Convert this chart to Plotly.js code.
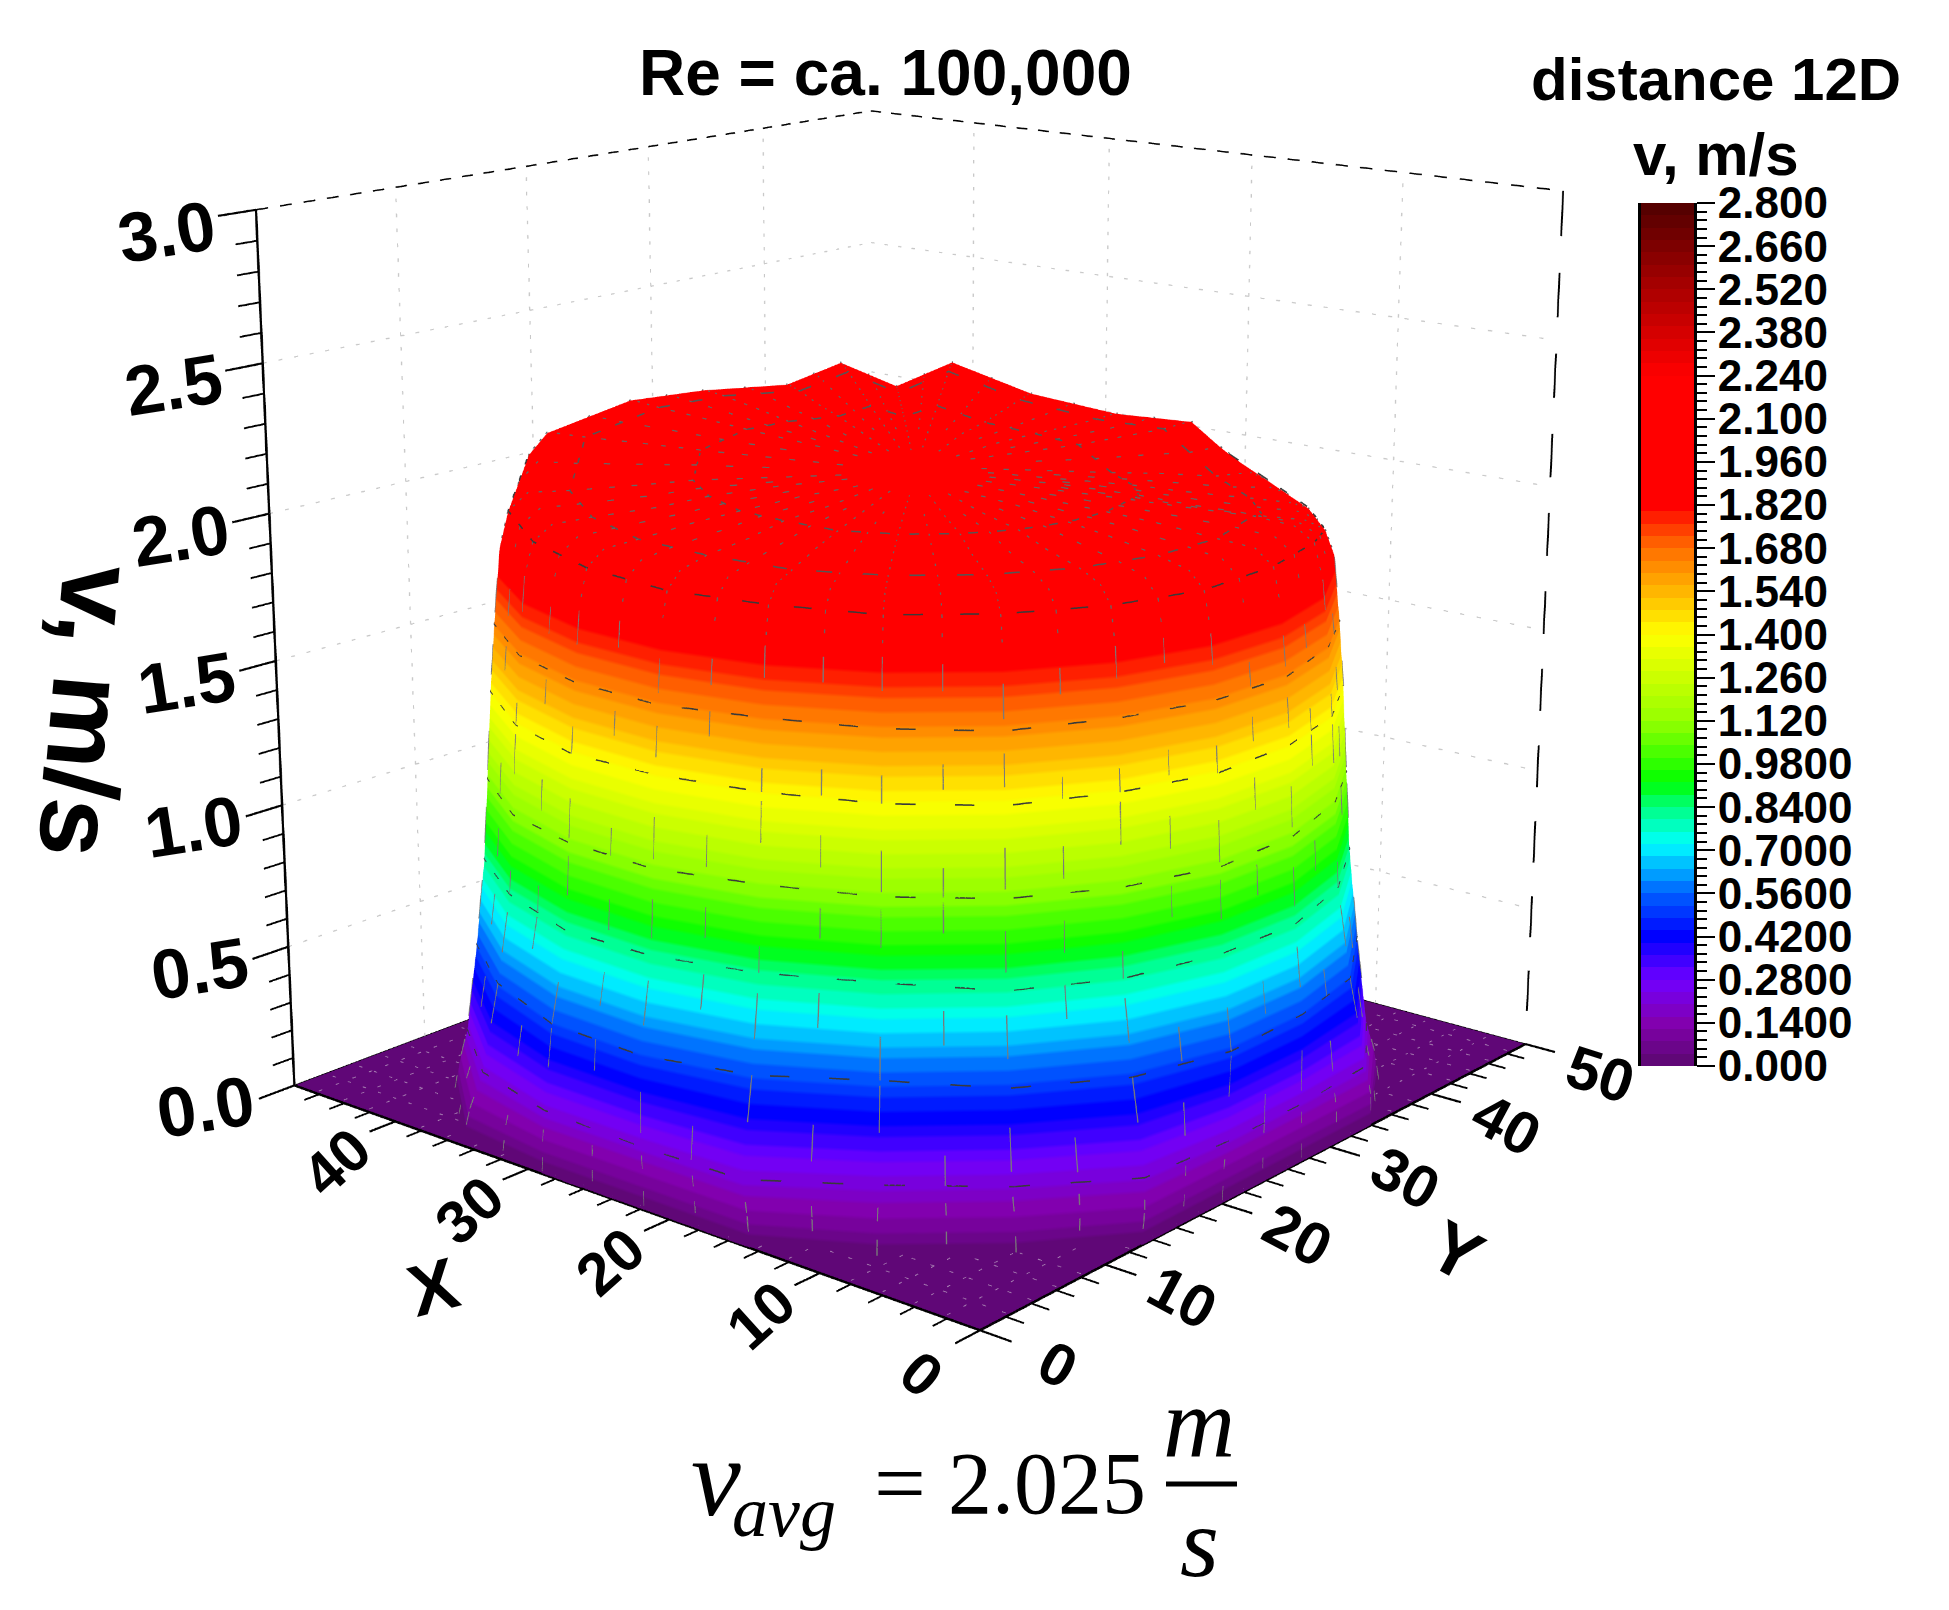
<!DOCTYPE html>
<html><head><meta charset="utf-8">
<script src="https://cdn.plot.ly/plotly-3.0.1.min.js"></script>
<style>html,body{margin:0;padding:0;background:#fff;overflow:hidden;width:1949px;height:1610px}#wrap{position:absolute;left:0;top:0;width:1949px;height:1610px;overflow:hidden}#g{position:absolute;left:-978px;top:-1001px;width:3770px;height:3300px}</style>
</head><body><div id="wrap"><div id="g"></div></div>
<script>
// ---- data ----
const angleDeg=[0,15,30,39,48,57,70,85,100,115,130,145,160,175,190,205,220,235,250,265,280,295,310,335,360];
const ringRadius=[0,4,8,12,15,18.6,20.8,21.9,22.4,22.8,23.1,23.4,23.7,24,24.3,24.5,24.7];
const ringFlare=[0,0,0,0,0,0,0,0,0,0,0,0,0,0.25,0.6,0.9,1];
const angleFlare=[0,0,0,0,0,0,0,0,0,0,0,1,2,3,3,3.2,1.8,1.8,3.3,3,3,2,1,0,0];
const ringRows=[
[2.10,2.10,2.10,2.10,2.10,2.10,2.10,2.10,2.10,2.10,2.10,2.10,2.10,2.10,2.10,2.10,2.10,2.10,2.10,2.10,2.10,2.10,2.10,2.10,2.10],
[2.11,2.11,2.11,2.12,2.11,2.12,2.11,2.10,2.10,2.08,2.08,2.08,2.08,2.08,2.07,2.07,2.07,2.07,2.08,2.08,2.08,2.09,2.09,2.10,2.11],
[2.12,2.12,2.12,2.14,2.12,2.14,2.12,2.10,2.09,2.05,2.05,2.06,2.07,2.07,2.07,2.06,2.06,2.07,2.07,2.07,2.08,2.09,2.09,2.11,2.12],
[2.13,2.13,2.13,2.16,2.12,2.16,2.11,2.09,2.08,2.02,2.02,2.03,2.06,2.06,2.06,2.06,2.06,2.06,2.06,2.07,2.07,2.08,2.09,2.12,2.13],
[2.14,2.14,2.13,2.18,2.12,2.18,2.11,2.08,2.08,2.00,1.99,2.00,2.05,2.05,2.05,2.04,2.04,2.05,2.05,2.05,2.06,2.06,2.08,2.13,2.14],
[2.15,2.15,2.14,2.20,2.12,2.20,2.11,2.07,2.08,1.97,1.96,1.97,2.04,2.03,2.03,2.03,2.03,2.03,2.03,2.04,2.04,2.05,2.07,2.14,2.15],
[2.16,2.15,2.14,2.21,2.12,2.21,2.11,2.07,2.09,1.97,1.94,1.96,2.02,2.02,2.01,2.01,2.01,2.01,2.02,2.02,2.03,2.04,2.07,2.15,2.16],
[2.08,2.08,2.07,2.13,2.05,2.13,2.05,2.01,2.02,1.94,1.92,1.93,1.97,1.97,1.96,1.96,1.96,1.96,1.97,1.97,1.98,1.99,2.01,2.07,2.08],
[1.92,1.93,1.96,1.94,1.96,1.93,1.92,1.90,1.90,1.86,1.85,1.85,1.85,1.84,1.84,1.84,1.85,1.85,1.85,1.86,1.86,1.88,1.89,1.90,1.92],
[1.65,1.65,1.66,1.65,1.66,1.64,1.64,1.63,1.63,1.62,1.62,1.62,1.63,1.62,1.62,1.62,1.61,1.62,1.63,1.62,1.62,1.62,1.63,1.64,1.65],
[1.41,1.41,1.42,1.41,1.41,1.40,1.40,1.40,1.39,1.39,1.39,1.40,1.40,1.40,1.39,1.39,1.38,1.39,1.40,1.40,1.39,1.39,1.40,1.40,1.41],
[1.11,1.11,1.11,1.10,1.10,1.10,1.10,1.09,1.09,1.09,1.10,1.10,1.11,1.10,1.09,1.09,1.09,1.10,1.11,1.10,1.10,1.09,1.10,1.10,1.11],
[0.83,0.83,0.82,0.82,0.82,0.82,0.81,0.81,0.81,0.82,0.83,0.83,0.82,0.81,0.81,0.80,0.80,0.83,0.83,0.82,0.81,0.82,0.82,0.82,0.83],
[0.52,0.52,0.52,0.52,0.51,0.51,0.51,0.52,0.52,0.53,0.52,0.52,0.51,0.51,0.50,0.50,0.50,0.53,0.52,0.51,0.51,0.52,0.52,0.52,0.52],
[0.22,0.22,0.22,0.22,0.22,0.22,0.21,0.22,0.22,0.23,0.22,0.22,0.21,0.20,0.20,0.20,0.20,0.21,0.21,0.21,0.22,0.22,0.22,0.22,0.22],
[0.10,0.10,0.10,0.10,0.10,0.10,0.10,0.10,0.10,0.11,0.11,0.11,0.11,0.11,0.11,0.11,0.11,0.11,0.11,0.11,0.11,0.10,0.10,0.10,0.10],
[0,0,0,0,0,0,0,0,0,0,0,0,0,0,0,0,0,0,0,0,0,0,0,0,0]
];
const stubPhase=[0.1,0.55,0.3,0.7,0.05,0.45,0.2,0.62,0.35,0.0,0.5,0.25,0.68,0.15,0.4];
const pipeCentre=[24.15,24.85];
const outlinedRings=[3,5,7,9,10,11,12,13,14];
const xTicks=[0,10,20,30,40], yTicks=[0,10,20,30,40,50], zTicks=[0,0.5,1,1.5,2,2.5,3];
const xMinor=[2,4,6,8,12,14,16,18,22,24,26,28,32,34,36,38,42,44,46];
const yMinor=[2,4,6,8,12,14,16,18,22,24,26,28,32,34,36,38,42,44,46,48];
const zMinor=[0.1,0.2,0.3,0.4,0.6,0.7,0.8,0.9,1.1,1.2,1.3,1.4,1.6,1.7,1.8,1.9,2.1,2.2,2.3,2.4,2.6,2.7,2.8,2.9];
const xMax=48,yMax=50,zMax=3;
const barTickVals=[0,0.14,0.28,0.42,0.56,0.7,0.84,0.98,1.12,1.26,1.4,1.54,1.68,1.82,1.96,2.1,2.24,2.38,2.52,2.66,2.8];
const barTickText=['0.000','0.1400','0.2800','0.4200','0.5600','0.7000','0.8400','0.9800','1.120','1.260','1.400','1.540','1.680','1.820','1.960','2.100','2.240','2.380','2.520','2.660','2.800'];
const colorStops=[[0,[90,8,110]],[0.14,[130,0,175]],[0.28,[112,0,255]],[0.42,[0,0,255]],[0.56,[0,96,255]],[0.72,[0,255,255]],[0.84,[0,255,128]],[0.92,[0,255,0]],[1.12,[150,255,0]],[1.4,[255,255,0]],[1.68,[255,110,0]],[1.82,[255,0,0]],[2.24,[255,0,0]],[2.52,[170,0,0]],[2.8,[80,0,0]]];
const bandCount=70;

// ---- colour scale with flat bands ----
function colourAt(v){for(let i=1;i<colorStops.length;i++){if(v<=colorStops[i][0]){const a=colorStops[i-1],b=colorStops[i],t=(v-a[0])/(b[0]-a[0]);
  return 'rgb('+a[1].map((c,k)=>Math.round(c+(b[1][k]-c)*t)).join(',')+')';}}return 'rgb(80,0,0)';}
const bandScale=[];const bandCentres=[];
for(let i=0;i<bandCount;i++){const c=colourAt((i+0.5)/bandCount*2.8);bandScale.push([i/bandCount,c],[(i+1)/bandCount,c]);bandCentres.push((i+0.5)/bandCount*2.8);}

// ---- polar mesh to x/y, kept inside the floor ----
const clamp=(v,m)=>Math.max(0,Math.min(m,v));
const gx=ringRadius.map((r,i)=>angleDeg.map((a,j)=>clamp(pipeCentre[0]+(r+ringFlare[i]*angleFlare[j])*Math.cos(a*Math.PI/180),xMax)));
const gy=ringRadius.map((r,i)=>angleDeg.map((a,j)=>clamp(pipeCentre[1]+(r+ringFlare[i]*angleFlare[j])*Math.sin(a*Math.PI/180),yMax)));
const flat={ambient:1,diffuse:0,specular:0,roughness:1,fresnel:0};
const traces=[];
traces.push({type:'surface',x:[0,xMax],y:[0,yMax],z:[[0,0],[0,0]],surfacecolor:[[0,0],[0,0]],cmin:0,cmax:2.8,colorscale:bandScale,showscale:false,lighting:flat,hoverinfo:'skip'});
traces.push({type:'surface',x:gx,y:gy,z:ringRows,cmin:0,cmax:2.8,colorscale:bandScale,showscale:false,lighting:flat,hoverinfo:'skip'});

function seg(list,color,width,dash){const x=[],y=[],z=[];list.forEach(s=>{x.push(s[0][0],s[1][0],null);y.push(s[0][1],s[1][1],null);z.push(s[0][2],s[1][2],null);});
  traces.push({type:'scatter3d',mode:'lines',x,y,z,line:{color,width,dash:dash||'solid'},hoverinfo:'skip',showlegend:false});}
function dots(a,b,count,fill){const out=[];for(let i=0;i<count;i++){const t0=i/count,t1=(i+fill)/count;
  out.push([a.map((v,k)=>v+(b[k]-v)*t0),a.map((v,k)=>v+(b[k]-v)*t1)]);}return out;}
function part(a,b,t0,t1){return [a.map((v,k)=>v+(b[k]-v)*t0),a.map((v,k)=>v+(b[k]-v)*Math.min(1,t1))];}
// frame
seg([[[xMax,0,0],[xMax,0,zMax]],[[0,0,0],[xMax,0,0]],[[0,0,0],[0,yMax,0]]],'#000',4);
seg(dots([xMax,0,zMax],[xMax,yMax,zMax],30,0.5).concat(dots([xMax,yMax,zMax],[0,yMax,zMax],30,0.5)),'#000',2.5);
seg(dots([0,yMax,zMax],[0,yMax,0],11,0.55),'#000',3);
seg([[[xMax,0,0],[xMax,yMax,0]],[[xMax,yMax,0],[0,yMax,0]]],'#000',2);
// ticks
seg(xTicks.map(v=>[[v,0,0],[v,-1.9,0]]),'#000',3.5);
seg(xMinor.map(v=>[[v,0,0],[v,-1.1,0]]),'#000',3);
seg(yTicks.map(v=>[[0,v,0],[-1.9,v,0]]),'#000',3.5);
seg(yMinor.map(v=>[[0,v,0],[-1.1,v,0]]),'#000',3);
seg(zTicks.map(v=>[[xMax,0,v],[xMax,-2.6,v]]),'#000',3.5);
seg(zMinor.map(v=>[[xMax,0,v],[xMax,-1.5,v]]),'#000',3);
// dotted wall grid
let g1=[];
xTicks.slice(1).forEach(v=>{g1=g1.concat(dots([v,yMax,0],[v,yMax,zMax],60,0.25));});
yTicks.slice(1,-1).forEach(v=>{g1=g1.concat(dots([xMax,v,0],[xMax,v,zMax],60,0.25));});
zTicks.slice(1,-1).forEach(v=>{g1=g1.concat(dots([xMax,0,v],[xMax,yMax,v],45,0.25)).concat(dots([xMax,yMax,v],[0,yMax,v],45,0.25));});
seg(g1,'#c8c8c8',2);
// floor hatching
let fl=[];xMinor.forEach(v=>{fl=fl.concat(dots([v,0,0.012],[v,yMax,0.012],40,0.2));});yMinor.forEach(v=>{fl=fl.concat(dots([0,v,0.012],[xMax,v,0.012],40,0.2));});
seg(fl,'#a57ab0',1.5);
// pipe mesh
outlinedRings.forEach(i=>{traces.push({type:'scatter3d',mode:'lines',x:gx[i],y:gy[i],z:ringRows[i].map(v=>v+0.004),line:{color:i>=7?'#3a3a3a':'#555',width:2.5,dash:'dash'},hoverinfo:'skip',showlegend:false});});
let sp=[],st=[];
angleDeg.slice(0,-1).forEach((a,j)=>{const j2=j+1;
 for(let i=0;i<ringRadius.length-1;i++){
  const p=[gx[i][j],gy[i][j],ringRows[i][j]+0.004],q=[gx[i+1][j],gy[i+1][j],ringRows[i+1][j]+0.004];
  const pm=[(gx[i][j]+gx[i][j2])/2,(gy[i][j]+gy[i][j2])/2,(ringRows[i][j]+ringRows[i][j2])/2+0.004];
  const qm=[(gx[i+1][j]+gx[i+1][j2])/2,(gy[i+1][j]+gy[i+1][j2])/2,(ringRows[i+1][j]+ringRows[i+1][j2])/2+0.004];
  if(i<8){if(i>0){sp=sp.concat(dots(p,q,3,0.25));if(i>1)sp=sp.concat(dots(pm,qm,2,0.2));}}
  else{const t=stubPhase[(i*3+j*5)%stubPhase.length],u=stubPhase[(i*7+j*2)%stubPhase.length];
    st.push(part(p,q,t,t+0.45));st.push(part(pm,qm,u,u+0.35));}
 }});
seg(sp,'#666',2);
seg(st,'#7a7a7a',2);

traces.push({type:'heatmap',x:[0],y:bandCentres,z:bandCentres.map(v=>[v]),zmin:0,zmax:2.8,colorscale:bandScale,showscale:false,xaxis:'x',yaxis:'y',hoverinfo:'skip',xgap:0,ygap:0});

const F='"Liberation Sans",Arial,sans-serif';
const S='"Liberation Serif",serif';
function sa(x,y,z,text,angle,size,xs,ys){return {x,y,z,text:'<b>'+text+'</b>',textangle:angle,showarrow:false,font:{family:F,size,color:'#000'},xshift:xs||0,yshift:ys||0};}
const sceneNotes=[];
zTicks.forEach(v=>sceneNotes.push(sa(xMax,0,v,v.toFixed(1),-9,70,-89,-22)));
xTicks.forEach(v=>sceneNotes.push(sa(v,-2,0,String(v),v===0?40:-42,60,-32,-30)));
yTicks.forEach(v=>sceneNotes.push(sa(-2,v,0,String(v),v===50?18:28,60,44,-22)));
sceneNotes.push(sa(24,-2,0,'X',-15,72,-152,-76));
sceneNotes.push(sa(-2,30,0,'Y',28,72,94,-95));

// the plot is laid out larger than the window so its lens is as long as the reference's
const LW=3770,LH=3300,OX=978,OY=1001;
const fx=px=>(px+OX)/LW, fy=py=>1-(py+OY)/LH;
function pa(px,py,text,size,family,angle){return {xref:'paper',yref:'paper',x:fx(px),y:fy(py),text,showarrow:false,font:{family,size,color:'#000'},textangle:angle||0,xanchor:'center',yanchor:'middle'};}
const layout={width:LW,height:LH,margin:{l:0,r:0,t:0,b:0},paper_bgcolor:'rgba(0,0,0,0)',plot_bgcolor:'rgba(0,0,0,0)',showlegend:false,
 scene:{domain:{x:[0,1],y:[0,1]},
  camera:{eye:{x:5.88,y:-7.0,z:2.53},center:{x:0,y:0,z:0},up:{x:0,y:0,z:1},projection:{type:'perspective'}},
  aspectmode:'manual',aspectratio:{x:2.32,y:2.42,z:2.14},
  xaxis:{range:[xMax+2,-2],visible:false},yaxis:{range:[-4,yMax+2],visible:false},zaxis:{range:[0,zMax],visible:false},
  annotations:sceneNotes},
 xaxis:{domain:[fx(1641),fx(1694)],visible:false,fixedrange:true,range:[-0.5,0.5]},
 yaxis:{domain:[fy(1066),fy(203)],range:[0,2.8],side:'right',anchor:'x',tickmode:'array',tickvals:barTickVals,ticktext:barTickText,ticks:'outside',ticklen:18,tickwidth:2,tickcolor:'#000',showgrid:false,zeroline:false,showline:true,mirror:true,linecolor:'#000',linewidth:3,ticklabelstandoff:-6,
   tickfont:{family:F,size:44,color:'#000',weight:700},minor:{dtick:0.028,tick0:0,ticks:'outside',ticklen:10,tickwidth:2,tickcolor:'#000',showgrid:false},fixedrange:true},
 annotations:[
  pa(885,73,'<b>Re = ca. 100,000</b>',64,F),
  pa(1716,79,'<b>distance 12D</b>',60,F),
  pa(1716,154,'<b>v, m/s</b>',60,F),
  pa(88,711,'<b>v, m/s</b>',106,F,95),
  pa(716,1477,'<i>v</i>',112,S),
  pa(784,1512,'<i>avg</i>',72,S),
  pa(900,1483,'=',92,S),
  pa(1047,1483,'2.025',88,S),
  pa(1199,1422,'<i>m</i>',100,S),
  pa(1199,1542,'<i>s</i>',100,S)],
 shapes:[{type:'line',xref:'paper',yref:'paper',x0:fx(1166),x1:fx(1237),y0:fy(1484),y1:fy(1484),line:{color:'#000',width:5}}]
};
Plotly.newPlot('g',traces,layout,{displayModeBar:false});
</script></body></html>
